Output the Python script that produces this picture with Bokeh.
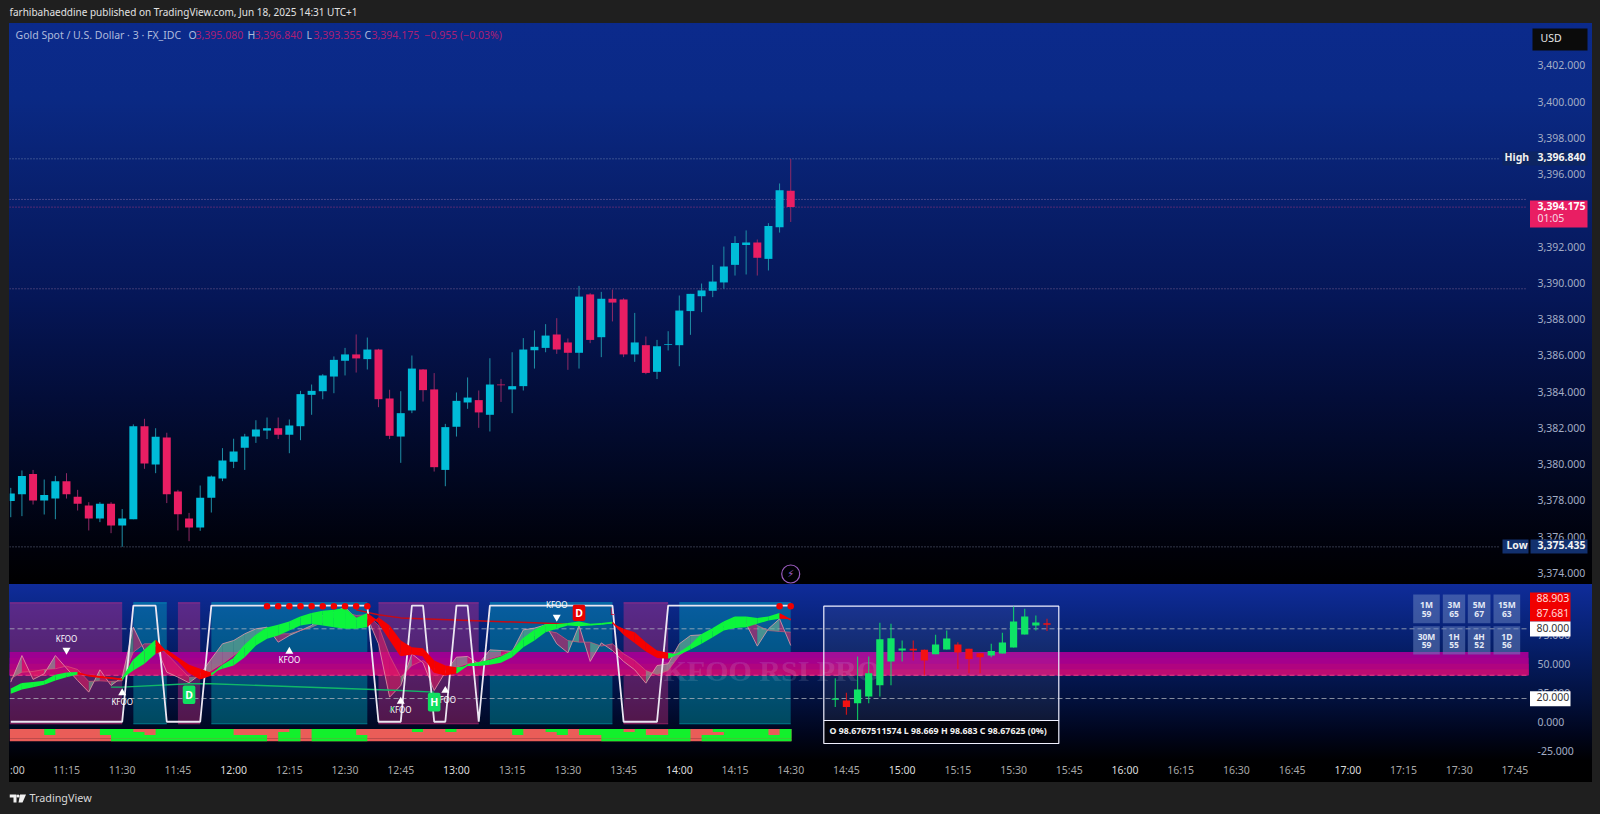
from bokeh.plotting import figure
from bokeh.layouts import column
from bokeh.models import Range1d, FixedTicker, NumeralTickFormatter, Label, BoxAnnotation
from bokeh.core.properties import value
from bokeh.embed import file_html
from bokeh.resources import INLINE

# ---------- main pane: 3 minute candles, minutes since 11:00 ----------
minutes = list(range(0, 211, 3))
opens = [3377.96,3378.34,3379.45,3377.99,3378.10,3379.06,3378.20,3377.72,3377.00,3377.81,3376.61,
         3376.96,3382.09,3379.98,3381.47,3378.49,3377.00,3376.50,3378.14,3379.21,
         3380.13,3380.90,3381.52,3381.85,3381.98,3381.62,3382.09,3383.82,3384.02,3384.83,
         3385.70,3386.05,3385.79,3386.32,3383.62,3381.52,3382.96,3385.22,3384.12,3379.68,
         3382.06,3383.40,3383.53,3382.72,3384.39,3384.12,3384.30,3386.28,3386.41,3387.15,
         3386.71,3386.14,3389.36,3387.00,3389.12,3389.08,3386.05,3386.56,3385.09,3386.58,
         3386.56,3388.44,3389.26,3389.56,3390.02,3390.99,3392.09,3392.22,3391.32,3393.07,3395.08]
highs = [3378.69,3379.65,3379.68,3379.15,3379.35,3379.50,3378.58,3377.90,3377.90,3377.90,3377.52,
         3382.19,3382.50,3381.98,3381.73,3378.58,3377.31,3378.82,3379.37,3380.88,
         3381.40,3381.67,3382.42,3382.57,3382.57,3382.46,3384.04,3384.39,3384.96,3385.94,
         3386.41,3387.15,3386.98,3386.36,3384.10,3384.02,3385.99,3385.24,3385.02,3382.22,
         3383.95,3384.78,3384.06,3385.84,3384.70,3386.17,3386.95,3387.37,3387.72,3388.05,
         3386.93,3389.83,3389.43,3389.50,3389.63,3389.15,3388.34,3387.04,3386.85,3387.33,
         3389.30,3389.39,3389.96,3390.99,3392.00,3392.57,3392.89,3392.39,3393.29,3395.48,3396.84]
lows = [3377.07,3377.13,3377.77,3377.22,3376.96,3378.10,3377.44,3376.34,3376.80,3376.19,3375.44,
        3376.96,3379.74,3379.50,3377.85,3376.34,3375.75,3376.32,3377.33,3379.06,
        3379.78,3379.68,3381.17,3381.38,3381.38,3380.60,3381.32,3382.72,3383.58,3383.91,
        3384.89,3385.05,3385.22,3383.14,3381.38,3380.07,3382.81,3383.45,3379.59,3378.78,
        3381.52,3383.05,3382.00,3381.80,3383.43,3382.81,3384.06,3385.27,3386.17,3386.08,
        3385.20,3385.27,3386.67,3385.90,3387.87,3385.90,3385.64,3384.96,3384.69,3386.27,
        3385.40,3387.13,3388.38,3389.21,3389.67,3390.40,3390.46,3390.40,3390.68,3392.77,3393.355]
closes = [3378.38,3379.34,3377.99,3378.29,3379.06,3378.34,3377.81,3377.00,3377.81,3376.61,3377.00,
          3382.09,3380.03,3381.51,3378.34,3377.24,3376.50,3378.14,3379.32,3380.20,
          3380.70,3381.52,3381.91,3381.98,3381.62,3382.13,3383.86,3384.04,3384.89,3385.75,
          3386.05,3385.83,3386.32,3383.58,3381.56,3382.81,3385.27,3384.08,3379.83,3382.04,
          3383.49,3383.67,3382.85,3384.39,3384.35,3384.30,3386.32,3386.47,3387.09,3386.32,
          3386.14,3389.24,3386.85,3389.12,3388.91,3386.05,3386.71,3385.03,3386.50,3386.62,
          3388.47,3389.39,3389.58,3390.07,3390.90,3392.19,3392.22,3391.38,3393.14,3395.11,3394.175]
price_ticks = list(range(3374, 3403, 2))
high_low_levels = [3396.84, 3375.435]
other_levels = [3394.6, 3394.175, 3389.67]

time_ticks = list(range(15, 406, 15))
hour_labels = {60: "12:00", 120: "13:00", 180: "14:00", 240: "15:00", 300: "16:00", 360: "17:00"}
quarter_ticks = [t for t in time_ticks if t not in hour_labels]
quarter_labels = {t: f"{11 + t // 60}:{t % 60:02d}" for t in quarter_ticks}

# ---------- indicator pane ----------
rsi_fast = [34.1,57.0,36.4,41.3,57.0,46.1,35.5,25.5,44.7,31.2,38.4,81.4,61.3,65.6,42.7,38.4,33.5,40.7,54.2,67.1,
            69.9,75.7,80.0,81.4,68.5,74.2,78.5,82.9,91.5,94.3,98.6,88.6,90.0,67.1,21.2,31.2,58.5,50.7,26.9,42.7,
            55.6,56.2,49.9,61.9,61.3,60.5,79.1,80.6,83.4,67.1,59.3,82.9,51.9,67.9,61.3,51.9,44.7,33.2,48.4,49.9,
            67.1,74.2,74.8,78.5,84.3,90.0,84.3,65.1,80.0,88.6,65.6]
rsi_slow = [37.0,42.7,43.3,45.0,45.6,47.9,45.0,34.7,35.2,34.7,35.2,59.9,67.1,67.1,58.5,48.4,38.4,38.4,44.1,49.9,
            57.0,64.2,71.4,77.1,75.7,75.7,78.5,81.4,85.7,90.0,94.3,91.5,92.0,82.9,57.0,38.4,48.4,52.7,45.6,44.1,
            47.0,49.9,51.3,54.2,57.0,61.3,71.4,74.2,78.5,76.5,69.9,68.5,68.5,65.1,67.1,58.5,52.7,44.1,40.4,44.1,
            57.0,64.2,71.4,78.5,82.9,88.6,88.6,82.9,78.5,77.7,77.1]
ma_fast = [27.8,32.7,33.5,34.7,39.8,41.8,42.1,39.5,38.4,37.5,36.4,52.7,61.3,69.9,59.3,52.7,42.7,37.0,40.4,48.4,
           54.2,65.6,74.2,80.5,82.9,85.7,90.0,92.9,94.9,95.8,97.2,88.6,92.9,85.7,71.4,57.0,58.5,57.0,42.7,40.4,
           42.1,49.0,50.7,52.7,55.6,60.5,71.4,78.5,83.4,83.4,84.3,85.7,83.7,84.3,85.4,75.7,68.5,61.3,55.6,54.8,
           59.3,65.6,74.8,80.0,85.7,90.0,90.0,88.6,90.0,92.9,87.681]
ma_slow = [24.1,27.8,29.8,31.8,35.5,38.4,40.7,40.4,39.3,38.4,37.2,44.1,49.9,58.5,62.2,55.6,49.0,45.6,42.1,45.6,
           48.4,55.6,65.6,71.4,74.2,78.5,82.9,84.3,82.9,81.4,80.0,80.0,81.4,90.0,82.9,69.9,64.2,63.3,52.7,48.4,
           47.0,47.9,47.9,49.0,50.7,55.6,64.2,69.9,77.1,80.0,82.9,82.3,82.9,83.4,84.6,80.0,77.1,68.5,61.3,59.3,
           57.6,62.2,67.1,72.8,78.5,80.6,81.4,84.3,87.2,88.6,88.903]
stoch_times = [0,30,33,39,42,51,54,96,99,105,108,111,114,117,120,123,126,129,162,165,174,177,210]
stoch_values = [0,0,100,100,0,0,100,100,0,0,100,100,0,0,100,100,0,100,100,0,0,100,100]
trend_times = [27,30,48,54,105,114]
trend_values = [29.8,29.8,32.7,32.7,26.9,25.5]
resist_times = [93,99,105,153]
resist_values = [96.3,92.0,89.4,83.7]
dot_times = [69,72,75,78,81,84,87,90,93,96,207,210]
zone_purple = [(-0.3,30),(45,51),(99,126),(165,177)]
zone_cyan = [(33,42),(54,96),(129,162),(180,210)]
heat_rows = [
    [(9,12),(24,33),(39,60),(75,78),(81,93),(108,111),(117,120),(135,138),(144,150),(153,165),(168,171),(177,183),(189,204),(207,210.2)],
    [(9,12),(24,36),(39,60),(72,78),(81,93),(135,138),(147,150),(153,171),(177,183),(192,204),(207,210.2)],
    [(27,69),(72,78),(81,96),(159,183),(186,210.2)],
    [(27,69),(72,78),(81,96),(159,183),(186,210.2)],
]
kfoo_up = [(30,24.9,17.2),(75,60.5,53.3),(105,17.5,10.6),(117,26.9,19.2)]
kfoo_down = [(15,61.6,72.0),(147,90.0,100.6)]

mini_minutes = list(range(222, 280, 3))
mini_open = [18.9,18.3,16.0,21.7,31.5,51.8,61.3,62.8,61.9,58.2,62.2,66.5,62.8,59.0,57.0,58.7,63.9,75.1,82.8,84.8]
mini_high = [37.5,24.9,56.2,56.2,85.1,84.3,69.9,69.9,62.2,74.8,78.5,68.5,62.8,59.0,67.1,76.5,99.2,97.2,91.4,88.6]
mini_low = [12.6,6.0,1.6,16.0,21.7,31.5,51.8,52.7,39.8,58.2,62.2,45.5,41.8,41.8,55.6,58.7,63.9,75.1,78.5,78.0]
mini_close = [20.0,12.6,27.8,41.8,71.1,71.9,63.0,61.3,52.7,66.5,71.7,59.6,54.1,55.6,60.8,68.2,86.3,90.6,85.4,83.4]

mtf_names = ["1M","3M","5M","15M","30M","1H","4H","1D"]
mtf_scores = ["59","65","67","63","59","55","52","56"]
rsi_ticks = [75,50,25,0,-25]

# ---------- pixel layout of the screenshot -> axes ----------
PX_PER_MIN = 3.714
def mx(px): return 30 + (px - 121.7) / PX_PER_MIN
def py(px): return 3396.84 - (px - 158.3) / 18.13
def sv(px): return 80 - (px - 628.3) / 1.162

OUTER = "#1f1f1f"
FONT = "Noto Sans"
x_range = Range1d(mx(9), mx(1592))
side = "linear-gradient(to right, %s 0px, %s 9px, transparent 9px, transparent 1592px, %s 1592px)" % (OUTER, OUTER, OUTER)

main_bg = (side + ", linear-gradient(to bottom, %s 0px, %s 23px, #0b2a8c 23px, #0a2984 98px, #081f6c 198px, "
           "#051657 298px, #030d38 398px, #010720 478px, #00010a 548px, #000 584px)" % (OUTER, OUTER))
main = figure(width=1600, height=584, x_range=x_range, y_range=Range1d(py(584), py(0)),
              x_axis_location=None, y_axis_location="right", toolbar_location=None,
              output_backend="svg", min_border_left=9, min_border_right=8, min_border_top=0,
              min_border_bottom=0, border_fill_color=None, background_fill_color=None,
              outline_line_color=None, styles={"background": main_bg})
main.grid.visible = False
ya = main.yaxis[0]
ya.ticker = FixedTicker(ticks=price_ticks)
ya.formatter = NumeralTickFormatter(format="0,0.000")
ya.axis_line_color = None
ya.major_tick_line_color = None
ya.minor_tick_line_color = None
ya.major_tick_out = 0
ya.major_label_standoff = -55
ya.major_label_text_font = FONT
ya.major_label_text_font_size = "10.5px"
ya.major_label_text_color = "#a3adc6"

UP, DOWN = "#00bcd8", "#e91e63"
colors = [UP if c >= o else DOWN for o, c in zip(opens, closes)]
wick_colors = ["#1f8fa6" if c >= o else "#8f2a66" for o, c in zip(opens, closes)]
main.segment(x0=mx(9), x1=mx(1500), y0=high_low_levels, y1=high_low_levels, line_color="#8fa0c0",
             line_alpha=0.7, line_dash="1 2", line_width=1)
main.segment(x0=mx(9), x1=mx(1527), y0=other_levels, y1=other_levels,
             line_color=["#9a7ab0", "#c03a80", "#8a6a98"], line_alpha=0.85, line_dash="1 2", line_width=1)
main.segment(x0=minutes, x1=minutes, y0=lows, y1=highs, line_color=wick_colors, line_width=1)
main.vbar(x=minutes, width=2.15, top=[max(o, c) for o, c in zip(opens, closes)],
          bottom=[min(o, c) for o, c in zip(opens, closes)], fill_color=colors, line_color=None)
main.scatter(x=[210], y=[py(573.5)], size=18, marker="circle", fill_color=None,
             line_color="#9a5cc0", line_width=1.2)


def lab(fig, x, y, text, color, size, bold=False, align="left", font=FONT, alpha=1.0):
    y = y + (1.2 / 18.13 if fig is main else 1.2 / 1.162)
    fig.add_layout(Label(x=x, y=y, text=text, text_color=color, text_font_size=f"{size}px", text_font=font,
                         text_font_style="bold" if bold else "normal", text_align=align,
                         text_baseline="middle", text_alpha=alpha))


def box(fig, conv, x0, x1, y0, y1, color, alpha=1.0):
    fig.add_layout(BoxAnnotation(left=mx(x0), right=mx(x1), top=conv(y0), bottom=conv(y1), fill_color=color,
                                 fill_alpha=alpha, line_color=None))


lab(main, 210, py(574), "⚡", "#9a5cc0", 10, align="center", font="DejaVu Sans")
lab(main, mx(9), py(13), "farhibahaeddine published on TradingView.com, Jun 18, 2025 14:31 UTC+1", "#e2e2e2", 10)
LEG, VAL = "#aebbdc", "#ab1f74"
lab(main, mx(15), py(36), "Gold Spot / U.S. Dollar · 3 · FX_IDC", LEG, 10.5)
for px, t, c in [(188, "O", LEG), (195, "3,395.080", VAL), (247, "H", LEG), (254, "3,396.840", VAL),
                 (306, "L", LEG), (313, "3,393.355", VAL), (364, "C", LEG), (371, "3,394.175", VAL),
                 (424, "−0.955 (−0.03%)", VAL)]:
    lab(main, mx(px), py(36), t, c, 10.5)

box(main, py, 1532, 1587, 28, 50, "#0b0b0b")
lab(main, mx(1540), py(39), "USD", "#e8e8e8", 10.5)
box(main, py, 1502, 1587, 151, 165, "#0e2660", 0.9)
lab(main, mx(1504), py(158), "High", "#f0f0f0", 10.5, bold=True)
lab(main, mx(1537), py(158), "3,396.840", "#f4f4f4", 10.5, bold=True)
box(main, py, 1502, 1528, 539, 553, "#12306e")
box(main, py, 1530, 1587, 539, 553, "#12306e")
lab(main, mx(1506), py(546), "Low", "#f0f0f0", 10.5, bold=True)
lab(main, mx(1537), py(546), "3,375.435", "#f4f4f4", 10.5, bold=True)
box(main, py, 1529.5, 1587, 200, 227, "#e91e63")
lab(main, mx(1537), py(206.5), "3,394.175", "#ffffff", 10.5, bold=True)
lab(main, mx(1537), py(219), "01:05", "#f8d8e4", 10.5)

# ---------- indicator pane ----------
sub_bg = (side + ", linear-gradient(to bottom, #0f2c9a 0px, #06206e 56px, #02103c 116px, #00051c 150px, #000002 176px, "
          "#000 198px, %s 198px, %s 230px)" % (OUTER, OUTER))
sub = figure(width=1600, height=230, x_range=x_range, y_range=Range1d(sv(814), sv(584)),
             x_axis_location="below", y_axis_location="right", toolbar_location=None,
             output_backend="svg", min_border_left=9, min_border_right=8, min_border_top=0,
             min_border_bottom=0, border_fill_color=None, background_fill_color=None,
             outline_line_color=None, styles={"background": sub_bg})
sub.grid.visible = False
xa = sub.xaxis[0]
xa.ticker = FixedTicker(ticks=quarter_ticks)
xa.major_label_overrides = quarter_labels
xa.axis_line_color = None
xa.major_tick_line_color = None
xa.minor_tick_line_color = None
xa.major_tick_out = 0
xa.major_label_standoff = -52
xa.major_label_text_font = FONT
xa.major_label_text_font_size = "10.5px"
xa.major_label_text_color = "#a8a8a8"
yb = sub.yaxis[0]
yb.ticker = FixedTicker(ticks=rsi_ticks)
yb.formatter = NumeralTickFormatter(format="0.000")
yb.axis_line_color = None
yb.major_tick_line_color = None
yb.minor_tick_line_color = None
yb.major_tick_out = 0
yb.major_label_standoff = -55
yb.major_label_text_font = FONT
yb.major_label_text_font_size = "10.5px"
yb.major_label_text_color = "#a3adc6"

ZTOP, ZBOT = sv(602.3), sv(723.3)
for zones, col in ((zone_purple, "#e4308a"), (zone_cyan, "#00bcc8")):
    l = [a for a, b in zones]
    r = [b for a, b in zones]
    sub.quad(left=l, right=r, top=ZTOP, bottom=ZBOT, fill_color=col, fill_alpha=0.36, line_color=None)
    sub.segment(x0=l, x1=r, y0=ZTOP, y1=ZTOP, line_color=col, line_alpha=0.55, line_width=1)
    sub.segment(x0=l, x1=r, y0=ZBOT, y1=ZBOT, line_color=col, line_alpha=0.55, line_width=1)

# magenta band, painted top to bottom so that no seams show between its tones
band_tops = [60, 55, 50, 45]
band_cols = ["#9d0092", "#a5008c", "#b00480", "#bd0c72"]
sub.quad(left=mx(9), right=mx(1528), top=band_tops, bottom=40, fill_color=band_cols, line_color=None)
sub.segment(x0=mx(9), x1=mx(1528), y0=[80, 20], y1=[80, 20], line_color="#b4b8c0", line_alpha=0.75,
            line_dash="5 3", line_width=1)
sub.segment(x0=mx(9), x1=mx(1528), y0=[40], y1=[40], line_color="#ff4f86", line_alpha=0.8,
            line_dash="5 3", line_width=1)
sub.text(x=[mx(663)], y=[sv(670)], text=["KFOO RSI PRO"], text_color="#d8e4f4", text_alpha=0.14, text_font_size="30px",
         text_font=value("Liberation Serif"), text_font_style="bold", text_baseline="middle")


def between(a, b, up_col, dn_col, alpha):
    xs, ys, cs = [], [], []
    for i in range(len(minutes) - 1):
        xs.append([minutes[i], minutes[i + 1], minutes[i + 1], minutes[i]])
        ys.append([a[i], a[i + 1], b[i + 1], b[i]])
        cs.append(up_col if a[i + 1] >= b[i + 1] else dn_col)
    sub.patches(xs=xs, ys=ys, fill_color=cs, fill_alpha=alpha, line_color=None)
    return cs


between(rsi_fast, rsi_slow, "#7fbf90", "#e91e63", 0.55)
sub.line(minutes, rsi_fast, line_color="#e8a0ac", line_alpha=0.75, line_width=1)
sub.line(minutes, rsi_slow, line_color="#e0607a", line_alpha=0.6, line_width=1)
sub.line(trend_times, trend_values, line_color="#10b868", line_width=1.4)
sub.line(resist_times, resist_values, line_color="#c80a14", line_width=1.5)
sub.line(stoch_times, stoch_values, line_color="#ece6f2", line_width=1.8)
cs = between(ma_fast, ma_slow, "#0cf53c", "#f60000", 1.0)
sub.segment(x0=minutes[:-1], x1=minutes[1:], y0=ma_fast[:-1], y1=ma_fast[1:], line_color=cs, line_width=1.5)
sub.scatter(x=dot_times, y=99.5, size=6.5, marker="circle", fill_color="#f00000", line_color=None)

# heat rows
for r, row in enumerate(heat_rows):
    top, bot = -6.3 - 2.6 * r, -8.9 - 2.6 * r
    sub.quad(left=-0.3, right=210.2, top=top, bottom=bot, fill_color="#ea5d58", line_color=None)
    sub.quad(left=[a for a, b in row], right=[b for a, b in row], top=top, bottom=bot, fill_color="#12f02c", line_color=None)

# signal marks
sub.scatter(x=[k[0] for k in kfoo_up], y=[k[1] for k in kfoo_up], marker="triangle", size=8, fill_color="#ffffff", line_color=None)
sub.scatter(x=[k[0] for k in kfoo_down], y=[k[1] for k in kfoo_down], marker="inverted_triangle", size=8, fill_color="#ffffff", line_color=None)
sub.text(x=[k[0] for k in kfoo_up + kfoo_down], y=[k[2] for k in kfoo_up + kfoo_down], text=["KFOO"] * 6,
         text_color="#ffffff", text_font_size="8px", text_align="center", text_baseline="middle", text_font=value(FONT))
sub.text(x=[102.5], y=[10.6], text=["↗"], text_color="#16c060", text_font_size="8px", text_align="center", text_baseline="middle", text_font=value("DejaVu Sans"))
sub.text(x=[162], y=[94.9], text=["L"], text_color="#e01020", text_font_size="8px", text_align="center", text_baseline="middle", text_font=value(FONT))
for m, v, t, c, h in [(48, 23.2, "D", "#10e060", 8.0), (114, 16.9, "H", "#10e060", 8.0), (153, 93.7, "D", "#e60000", 7.0)]:
    sub.rect(x=[m], y=[v], width=3.4, height=2 * h, fill_color=c, line_color=None, border_radius=2)
    sub.text(x=[m], y=[v], text=[t], text_color="#ffffff", text_font_size="10.5px", text_align="center", text_baseline="middle", text_font=value(FONT), text_font_style="bold")

# multi timeframe table
col_edges = [(1412.7, 1439.3), (1442.3, 1464.7), (1467.3, 1490), (1493, 1519.7)]
row_edges = [(594, 622.7, 604.3, 613), (625.7, 654, 635.7, 644.3)]
for r, (y0, y1, yn, ys) in enumerate(row_edges):
    for c, (x0, x1) in enumerate(col_edges):
        i = r * 4 + c
        sub.quad(left=mx(x0), right=mx(x1), top=sv(y0), bottom=sv(y1), fill_color="#6a84c0", fill_alpha=0.52, line_color=None)
        sub.text(x=[mx((x0 + x1) / 2)] * 2, y=[sv(yn), sv(ys)], text=[mtf_names[i], mtf_scores[i]], text_color="#e4eaf6",
                 text_font_size="8.5px", text_align="center", text_baseline="middle", text_font=value(FONT), text_font_style="bold")

# mini chart
sub.quad(left=mx(823.3), right=mx(1058.3), top=sv(605.7), bottom=sv(720), fill_color="#ffffff", fill_alpha=0.06,
         line_color="#f0f0ff", line_width=1.2)
sub.quad(left=mx(823.3), right=mx(1058.3), top=sv(720), bottom=sv(743), fill_color="#02020a", line_color="#f0f0ff", line_width=1.2)
MG, MR = "#0ee466", "#f21212"
mini_cols = [MG if c >= o else MR for o, c in zip(mini_open, mini_close)]
sub.segment(x0=mini_minutes, x1=mini_minutes, y0=mini_low, y1=mini_high, line_color=mini_cols, line_width=1.2, line_alpha=0.8)
sub.vbar(x=mini_minutes, width=1.95, top=[max(o, c) for o, c in zip(mini_open, mini_close)],
         bottom=[min(o, c) for o, c in zip(mini_open, mini_close)], fill_color=mini_cols, line_color=None)
lab(sub, mx(941), sv(732), "O 98.6767511574  L 98.669  H 98.683  C 98.67625 (0%)", "#f2f2f2", 8.8, bold=True, align="center")

# right-hand tags
box(sub, sv, 1529.5, 1570, 592, 621, "#f00000")
lab(sub, mx(1536), sv(599), "88.903", "#ffd8d8", 10.5)
lab(sub, mx(1536), sv(613.7), "87.681", "#ffd8d8", 10.5)
box(sub, sv, 1529.5, 1570, 621, 636, "#ffffff")
lab(sub, mx(1536), sv(628.3), "80.000", "#333333", 10.5)
box(sub, sv, 1529.5, 1570, 690.7, 705.7, "#ffffff")
lab(sub, mx(1536), sv(698), "20.000", "#333333", 10.5)

# brighter hour labels on the time axis; the first is cut by the pane edge in the reference
lab(sub, mx(9.5), sv(770.5), ":00", "#c8c8c8", 10.5)
for t, txt in hour_labels.items():
    lab(sub, t, sv(770.5), txt, "#dcdcdc", 10.5, align="center")

# footer: logo shape and wordmark
sub.patches(xs=[[mx(9), mx(16), mx(16), mx(13), mx(13), mx(9)],
                [mx(19.5), mx(25.5), mx(22), mx(18)]],
            ys=[[sv(794), sv(794), sv(802), sv(802), sv(797), sv(797)],
                [sv(794), sv(794), sv(802), sv(802)]],
            fill_color="#f0f0f0", line_color=None)
sub.scatter(x=[mx(17.5)], y=[sv(795.5)], size=3.2, marker="circle", fill_color="#f0f0f0", line_color=None)
lab(sub, mx(29), sv(798), "TradingView", "#d8d8d8", 10.8)

page = column(main, sub, spacing=0)
open("out.html", "w").write(file_html(page, INLINE).replace("<body>", '<body style="background:%s;margin:0;overflow:hidden">' % OUTER))
